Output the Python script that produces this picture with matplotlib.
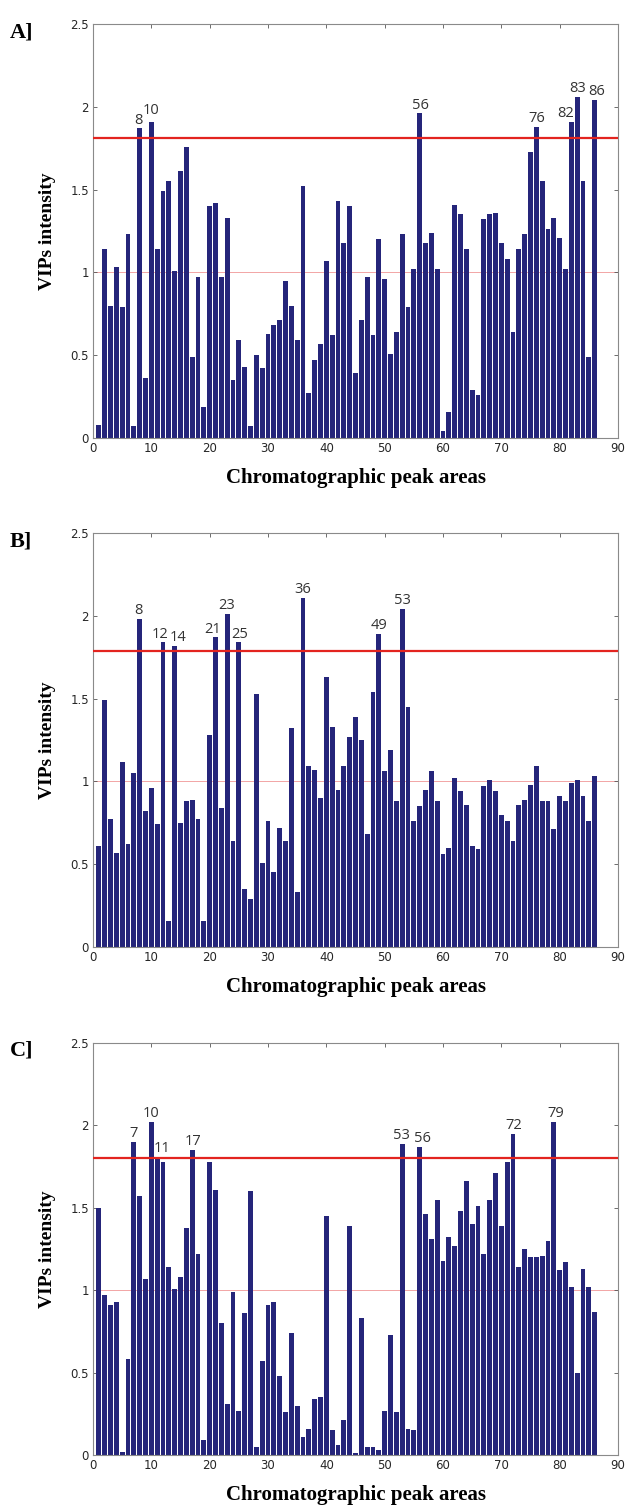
import matplotlib
matplotlib.use("Agg")
import matplotlib.pyplot as plt

# ---------------- data ----------------
peaks = list(range(1, 87))

vip_a = [0.08, 1.14, 0.80, 1.03, 0.79, 1.23, 0.07, 1.87, 0.36, 1.91,
         1.14, 1.49, 1.55, 1.01, 1.61, 1.76, 0.49, 0.97, 0.19, 1.40,
         1.42, 0.97, 1.33, 0.35, 0.59, 0.43, 0.07, 0.50, 0.42, 0.63,
         0.68, 0.71, 0.95, 0.80, 0.59, 1.52, 0.27, 0.47, 0.57, 1.07,
         0.62, 1.43, 1.18, 1.40, 0.39, 0.71, 0.97, 0.62, 1.20, 0.96,
         0.51, 0.64, 1.23, 0.79, 1.02, 1.96, 1.18, 1.24, 1.02, 0.04,
         0.16, 1.41, 1.35, 1.14, 0.29, 0.26, 1.32, 1.35, 1.36, 1.18,
         1.08, 0.64, 1.14, 1.23, 1.73, 1.88, 1.55, 1.26, 1.33, 1.21,
         1.02, 1.91, 2.06, 1.55, 0.49, 2.04]

vip_b = [0.61, 1.49, 0.77, 0.57, 1.12, 0.62, 1.05, 1.98, 0.82, 0.96,
         0.74, 1.84, 0.16, 1.82, 0.75, 0.88, 0.89, 0.77, 0.16, 1.28,
         1.87, 0.84, 2.01, 0.64, 1.84, 0.35, 0.29, 1.53, 0.51, 0.76,
         0.45, 0.72, 0.64, 1.32, 0.33, 2.11, 1.09, 1.07, 0.90, 1.63,
         1.33, 0.95, 1.09, 1.27, 1.39, 1.25, 0.68, 1.54, 1.89, 1.06,
         1.19, 0.88, 2.04, 1.45, 0.76, 0.85, 0.95, 1.06, 0.88, 0.56,
         0.60, 1.02, 0.94, 0.86, 0.61, 0.59, 0.97, 1.01, 0.94, 0.80,
         0.76, 0.64, 0.86, 0.89, 0.98, 1.09, 0.88, 0.88, 0.71, 0.91,
         0.88, 0.99, 1.01, 0.91, 0.76, 1.03]

vip_c = [1.50, 0.97, 0.91, 0.93, 0.02, 0.58, 1.90, 1.57, 1.07, 2.02,
         1.81, 1.78, 1.14, 1.01, 1.08, 1.38, 1.85, 1.22, 0.09, 1.78,
         1.61, 0.80, 0.31, 0.99, 0.27, 0.86, 1.60, 0.05, 0.57, 0.91,
         0.93, 0.48, 0.26, 0.74, 0.30, 0.11, 0.16, 0.34, 0.35, 1.45,
         0.15, 0.06, 0.21, 1.39, 0.01, 0.83, 0.05, 0.05, 0.03, 0.27,
         0.73, 0.26, 1.89, 0.16, 0.15, 1.87, 1.46, 1.31, 1.55, 1.18,
         1.32, 1.27, 1.48, 1.66, 1.40, 1.51, 1.22, 1.55, 1.71, 1.39,
         1.78, 1.95, 1.14, 1.25, 1.20, 1.20, 1.21, 1.30, 2.02, 1.12,
         1.17, 1.02, 0.50, 1.13, 1.02, 0.87]

labels_a = [8, 10, 56, 76, 82, 83, 86]
labels_b = [8, 12, 14, 21, 23, 25, 36, 49, 53]
labels_c = [7, 10, 11, 17, 53, 56, 72, 79]

threshold_a = 1.81
threshold_b = 1.79
threshold_c = 1.80
reference_level = 1.0

panel_names = ["A]", "B]", "C]"]
x_ticks = [0, 10, 20, 30, 40, 50, 60, 70, 80, 90]
y_ticks = [0, 0.5, 1, 1.5, 2, 2.5]
y_tick_labels = ["0", "0.5", "1", "1.5", "2", "2.5"]
x_label = "Chromatographic peak areas"
y_label = "VIPs intensity"

# ---------------- styling ----------------
BAR = "#25257a"
RED = "#e3241f"
PINK = "#f2a5a5"
SPINE = "#8a8a8a"
TICKTXT = "#262626"
SERIF = ["Liberation Serif", "DejaVu Serif"]
SANS = ["Open Sans", "DejaVu Sans"]

# small horizontal nudges (data units) for annotation labels
nudges = {
    0: {8: -0.2, 10: 0.0, 56: 0.2, 76: 0.1, 82: -1.0, 83: 0.1, 86: 0.4},
    1: {8: -0.2, 12: -0.5, 14: 0.5, 21: -0.5, 23: -0.1, 25: 0.2, 36: 0.0, 49: 0.0, 53: 0.1},
    2: {7: 0.0, 10: -0.1, 11: 0.9, 17: 0.2, 53: -0.1, 56: 0.5, 72: 0.1, 79: 0.4},
}
raise_pts = {0: {10: 2.5}, 1: {}, 2: {}}

W, H = 628, 1510
fig = plt.figure(figsize=(W / 100, H / 100), dpi=100)

left_px, right_px = 93, 618
panels_px = [(24, 438), (533, 947), (1043, 1455)]

series = [vip_a, vip_b, vip_c]
labels = [labels_a, labels_b, labels_c]
thresholds = [threshold_a, threshold_b, threshold_c]

for i, (top_px, bot_px) in enumerate(panels_px):
    ax = fig.add_axes([left_px / W, 1 - bot_px / H,
                       (right_px - left_px) / W, (bot_px - top_px) / H])
    vals = series[i]
    ax.bar(peaks, vals, width=0.84, color=BAR, edgecolor="none", zorder=2)
    ax.axhline(thresholds[i], color=RED, lw=1.6, zorder=3)
    ax.axhline(reference_level, color=PINK, lw=0.7, zorder=1)

    for p in labels[i]:
        ax.annotate(str(p), xy=(p + nudges[i].get(p, 0.0), vals[p - 1]),
                    xytext=(0, 0.5 + raise_pts[i].get(p, 0.0)),
                    textcoords="offset points", ha="center", va="bottom",
                    fontsize=10.5, color="#333333", family=SANS, zorder=4)

    ax.set_xlim(0, 90)
    ax.set_ylim(0, 2.5)
    ax.set_xticks(x_ticks)
    ax.set_yticks(y_ticks)
    ax.set_yticklabels(y_tick_labels)
    ax.tick_params(direction="in", length=3, width=0.6, color="#555555",
                   top=True, right=True, labelsize=8.5, labelcolor=TICKTXT, pad=3)
    for s in ax.spines.values():
        s.set_color(SPINE)
        s.set_linewidth(0.8)

    ax.set_xlabel(x_label, fontsize=15, fontweight="bold", family=SERIF,
                  labelpad=9)
    ax.set_ylabel(y_label, fontsize=14, fontweight="bold", family=SERIF,
                  labelpad=10)
    fig.text(10 / W, 1 - (top_px + 8) / H, panel_names[i], fontsize=16,
             fontweight="bold", family=SERIF, ha="left", va="center")

fig.savefig("out.png", dpi=100)
